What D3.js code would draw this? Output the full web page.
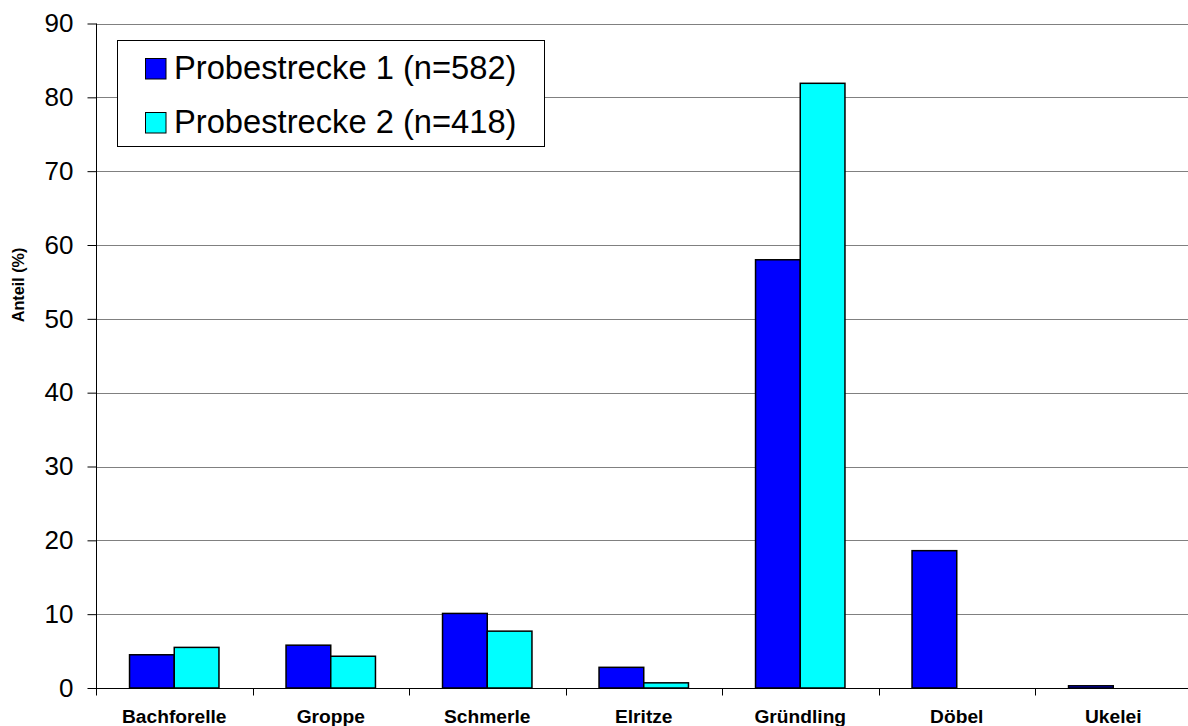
<!DOCTYPE html>
<html>
<head>
<meta charset="utf-8">
<script src="https://cdn.jsdelivr.net/npm/d3@7"></script>
<style>
  html, body { margin: 0; padding: 0; background: #fff; }
  svg { display: block; font-family: Arial, "Liberation Sans", sans-serif; }
</style>
</head>
<body>
<svg id="chart" width="1188" height="726"></svg>
<script>
// Fish species share per sampling stretch (%)
const categories = ["Bachforelle", "Groppe", "Schmerle", "Elritze", "Gründling", "Döbel", "Ukelei"];
const seriesNames = ["Probestrecke 1 (n=582)", "Probestrecke 2 (n=418)"];
const strecke1 = [4.5, 5.8, 10.1, 2.8, 58.0, 18.6, 0.3];
const strecke2 = [5.5, 4.3, 7.7, 0.7, 81.9, 0, 0];
const yTicks = [0, 10, 20, 30, 40, 50, 60, 70, 80, 90];
const colors = ["#0000FF", "#00FFFF"];

const svg = d3.select("#chart");
const plotLeft = 96, plotRight = 1191.5, plotTop = 23.5, plotBottom = 688;

const x0 = d3.scaleBand().domain(categories).range([plotLeft, plotRight]).paddingInner(0).paddingOuter(0);
const x1 = d3.scaleBand().domain([0, 1]).range([0, x0.bandwidth()]).paddingInner(0).paddingOuter(0.75);
const y = d3.scaleLinear().domain([0, 90]).range([plotBottom, plotTop]);

// horizontal gridlines
svg.append("g")
  .selectAll("line")
  .data(yTicks.filter(d => d > 0))
  .join("line")
  .attr("x1", plotLeft).attr("x2", plotRight)
  .attr("y1", d => Math.round(y(d)) + 0.5).attr("y2", d => Math.round(y(d)) + 0.5)
  .attr("stroke", "#808080").attr("stroke-width", 1);

// bars
const rows = categories.map((c, i) => ({ c, v: [strecke1[i], strecke2[i]] }));
const groups = svg.append("g").selectAll("g")
  .data(rows).join("g")
  .attr("transform", d => `translate(${x0(d.c)},0)`);
groups.selectAll("rect")
  .data(d => d.v.map((v, s) => ({ v, s })).filter(e => e.v > 0))
  .join("rect")
  .attr("x", d => x1(d.s))
  .attr("width", x1.bandwidth())
  .attr("y", d => y(d.v))
  .attr("height", d => y(0) - y(d.v))
  .attr("fill", d => colors[d.s])
  .attr("stroke", "#000").attr("stroke-width", 1.5);

// y axis
const yAxis = d3.axisLeft(y).tickValues(yTicks).tickSize(9).tickPadding(14);
const gy = svg.append("g").attr("transform", `translate(${plotLeft + 0.5},0)`).call(yAxis);
gy.select(".domain").attr("stroke", "#000").attr("d", `M0,${plotTop}V${plotBottom}`);
gy.selectAll(".tick line").attr("stroke", "#000");
gy.selectAll(".tick text").attr("font-size", 26).attr("fill", "#000")
  .attr("font-family", "Arial, 'Liberation Sans', sans-serif");

// x axis with boundary ticks between categories
const gx = svg.append("g").attr("transform", `translate(0,${plotBottom + 0.5})`);
gx.append("line").attr("x1", plotLeft).attr("x2", plotRight).attr("stroke", "#000");
gx.selectAll("line.b")
  .data(categories.map(c => x0(c)).concat([plotRight]))
  .join("line").attr("class", "b")
  .attr("x1", d => Math.round(d) + 0.5).attr("x2", d => Math.round(d) + 0.5)
  .attr("y1", 0).attr("y2", 7).attr("stroke", "#000");
gx.selectAll("text")
  .data(categories).join("text")
  .attr("x", d => x0(d) + x0.bandwidth() / 2)
  .attr("y", 34.5)
  .attr("text-anchor", "middle")
  .attr("font-size", 19.2).attr("font-weight", "bold")
  .text(d => d);

// y axis title
svg.append("text")
  .attr("transform", "translate(24,285) rotate(-90)")
  .attr("text-anchor", "middle")
  .attr("font-size", 16.2).attr("font-weight", "bold")
  .text("Anteil (%)");

// legend
const lg = svg.append("g");
lg.append("rect")
  .attr("x", 117.5).attr("y", 40.5).attr("width", 427).attr("height", 106)
  .attr("fill", "#fff").attr("stroke", "#000").attr("stroke-width", 1);
seriesNames.forEach((name, i) => {
  const yy = 58.5 + i * 54;
  lg.append("rect").attr("x", 145.5).attr("y", yy).attr("width", 20.5).attr("height", 20.5)
    .attr("fill", colors[i]).attr("stroke", "#000").attr("stroke-width", 1);
  lg.append("text").attr("x", 174).attr("y", yy + 20.5)
    .attr("font-size", 32.7).text(name);
});
</script>
</body>
</html>
